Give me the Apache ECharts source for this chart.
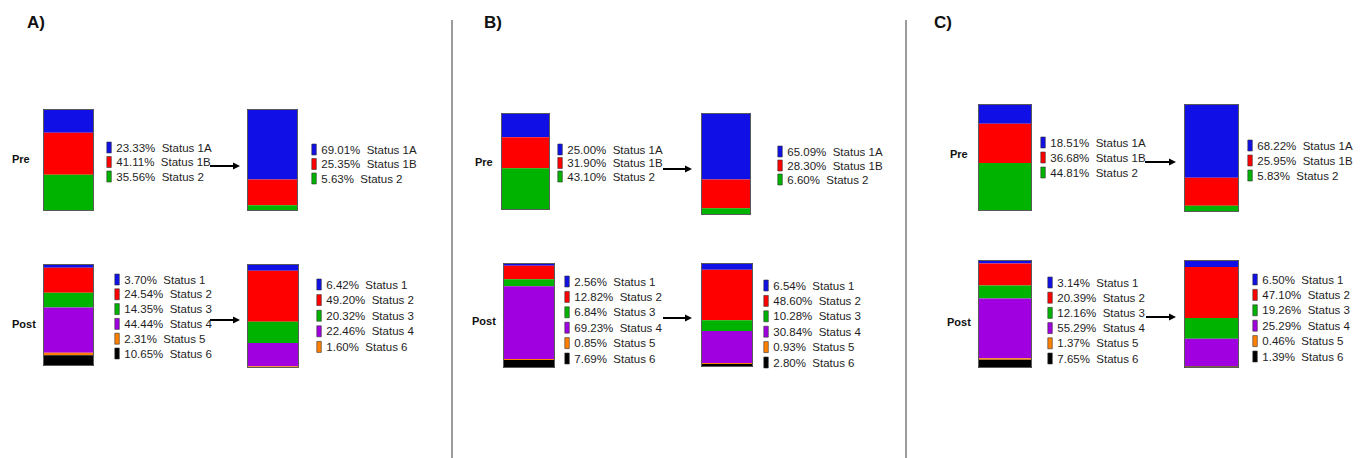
<!DOCTYPE html>
<html>
<head>
<meta charset="utf-8">
<script src="https://cdn.jsdelivr.net/npm/echarts@6/dist/echarts.min.js"></script>
<style>
  html, body { margin: 0; padding: 0; background: #fff; }
  #chart { width: 1369px; height: 458px; }
</style>
</head>
<body>
<div id="chart"></div>
<script>
// ---- Data: status shares (%) before and after, per panel ----
const PANEL_LABELS = ['A)', 'B)', 'C)'];
const ROW_LABELS = ['Pre', 'Post'];

const PRE_STATUSES = ['Status 1A', 'Status 1B', 'Status 2'];
const POST_STATUSES = ['Status 1', 'Status 2', 'Status 3', 'Status 4', 'Status 5', 'Status 6'];
const POST_STATUSES_A_AFTER = ['Status 1', 'Status 2', 'Status 3', 'Status 4', 'Status 6'];

const A_PRE_BEFORE = [23.33, 41.11, 35.56];
const A_PRE_AFTER = [69.01, 25.35, 5.63];
const A_POST_BEFORE = [3.70, 24.54, 14.35, 44.44, 2.31, 10.65];
const A_POST_AFTER = [6.42, 49.20, 20.32, 22.46, 1.60];

const B_PRE_BEFORE = [25.00, 31.90, 43.10];
const B_PRE_AFTER = [65.09, 28.30, 6.60];
const B_POST_BEFORE = [2.56, 12.82, 6.84, 69.23, 0.85, 7.69];
const B_POST_AFTER = [6.54, 48.60, 10.28, 30.84, 0.93, 2.80];

const C_PRE_BEFORE = [18.51, 36.68, 44.81];
const C_PRE_AFTER = [68.22, 25.95, 5.83];
const C_POST_BEFORE = [3.14, 20.39, 12.16, 55.29, 1.37, 7.65];
const C_POST_AFTER = [6.50, 47.10, 19.26, 25.29, 0.46, 1.39];

// ---- Styling ----
const BLUE = '#1010e6', RED = '#ff0000', GREEN = '#00b300', PURPLE = '#a000e0', ORANGE = '#ff8000', BLACK = '#000000';
const PRE_COLORS = [BLUE, RED, GREEN];
const POST_COLORS = [BLUE, RED, GREEN, PURPLE, ORANGE, BLACK];
const POST_COLORS_A_AFTER = [BLUE, RED, GREEN, PURPLE, ORANGE];
const FONT = 'Arial, "Liberation Sans", Helvetica, sans-serif';
const TEXT_COLOR = '#1e1e1e';

// Each stacked bar: its values, legend names, colors, plot box and legend placement
const bars = [
  { values: A_PRE_BEFORE,  statuses: PRE_STATUSES,  colors: PRE_COLORS,  box: [43, 109, 51, 102],   legend: [106, 141.5, 13.5] },
  { values: A_PRE_AFTER,   statuses: PRE_STATUSES,  colors: PRE_COLORS,  box: [247, 109, 51, 102],  legend: [311, 143.5, 13.5] },
  { values: A_POST_BEFORE, statuses: POST_STATUSES, colors: POST_COLORS, box: [43, 264, 51, 102],   legend: [114, 273.5, 13.8] },
  { values: A_POST_AFTER,  statuses: POST_STATUSES_A_AFTER, colors: POST_COLORS_A_AFTER, box: [247, 264, 52, 104], legend: [316, 278.5, 14.6] },

  { values: B_PRE_BEFORE,  statuses: PRE_STATUSES,  colors: PRE_COLORS,  box: [501, 113, 49, 97],   legend: [557, 143.5, 12.5] },
  { values: B_PRE_AFTER,   statuses: PRE_STATUSES,  colors: PRE_COLORS,  box: [701, 113, 50, 102],  legend: [777, 145.5, 13] },
  { values: B_POST_BEFORE, statuses: POST_STATUSES, colors: POST_COLORS, box: [503, 263, 52, 105],  legend: [564, 275.5, 14.4] },
  { values: B_POST_AFTER,  statuses: POST_STATUSES, colors: POST_COLORS, box: [701, 263, 52, 104],  legend: [763, 279.5, 14.4] },

  { values: C_PRE_BEFORE,  statuses: PRE_STATUSES,  colors: PRE_COLORS,  box: [978, 104, 54, 107],  legend: [1040, 136.5, 14] },
  { values: C_PRE_AFTER,   statuses: PRE_STATUSES,  colors: PRE_COLORS,  box: [1184, 104, 55, 108], legend: [1247, 139.5, 14] },
  { values: C_POST_BEFORE, statuses: POST_STATUSES, colors: POST_COLORS, box: [978, 260, 54, 108],  legend: [1047, 276.5, 14.2] },
  { values: C_POST_AFTER,  statuses: POST_STATUSES, colors: POST_COLORS, box: [1184, 260, 55, 108], legend: [1252, 273.5, 14.4] }
];

// Decorations: panel letters, row labels, arrows, dividers
const panelLabelPos = [[27, 22], [484, 22], [934, 22]];
const rowLabelPos = [
  [[12, 159], [12, 324]],
  [[475, 162], [472, 321]],
  [[950, 154], [947, 322]]
];
const arrows = [
  [210, 240, 166], [210, 240, 320],
  [663, 692, 169], [663, 692, 318],
  [1145, 1176, 162], [1146, 1176, 317]
];
const dividers = [452, 906];

// ---- Build option ----
const grid = [], xAxis = [], yAxis = [], series = [], legend = [];
const legendText = {};

bars.forEach((bar, i) => {
  const [l, t, w, h] = bar.box;
  grid.push({ left: l, top: t, width: w, height: h, containLabel: false });
  xAxis.push({ type: 'category', gridIndex: i, data: [''], show: false });
  yAxis.push({ type: 'value', gridIndex: i, min: 0, max: 100, inverse: true, show: false });

  const names = [];
  bar.values.forEach((v, j) => {
    const name = 'bar' + i + '_' + j;
    names.push(name);
    legendText[name] = v.toFixed(2) + '%  ' + bar.statuses[j];
    series.push({
      type: 'bar', name: name, xAxisIndex: i, yAxisIndex: i, stack: 'stack' + i,
      data: [v], barWidth: '100%', silent: true, animation: false,
      itemStyle: { color: bar.colors[j] }
    });
  });
  // outline round the whole bar (full 100%)
  series.push({
    type: 'bar', name: 'outline' + i, xAxisIndex: i, yAxisIndex: i,
    data: [100], barWidth: '100%', barGap: '-100%', silent: true, animation: false, z: 5,
    itemStyle: { color: 'rgba(0,0,0,0)', borderColor: '#5a5a5a', borderWidth: 1 }
  });

  const [lx, ly, gap] = bar.legend;
  legend.push({
    data: names, orient: 'vertical', left: lx + 0.5, top: ly, padding: 0,
    itemWidth: 4.5, itemHeight: 11, itemGap: gap - 11, icon: 'rect', selectedMode: false,
    itemStyle: { borderColor: '#333', borderWidth: 0.6 },
    textStyle: { fontSize: 11.5, fontFamily: FONT, color: TEXT_COLOR, lineHeight: 11 },
    formatter: (n) => legendText[n]
  });
});

const graphic = [];
PANEL_LABELS.forEach((txt, p) => {
  graphic.push({
    type: 'text', x: panelLabelPos[p][0], y: panelLabelPos[p][1],
    style: { text: txt, font: 'bold 17px ' + FONT, fill: '#111', verticalAlign: 'middle', align: 'left' }
  });
  ROW_LABELS.forEach((row, r) => {
    graphic.push({
      type: 'text', x: rowLabelPos[p][r][0], y: rowLabelPos[p][r][1],
      style: { text: row, font: 'bold 11px ' + FONT, fill: '#111', verticalAlign: 'middle', align: 'left' }
    });
  });
});
arrows.forEach(([x1, x2, y]) => {
  graphic.push({ type: 'line', shape: { x1: x1, y1: y, x2: x2 - 5, y2: y }, style: { stroke: '#000', lineWidth: 2 } });
  graphic.push({ type: 'polygon', shape: { points: [[x2, y], [x2 - 7, y - 3.5], [x2 - 7, y + 3.5]] }, style: { fill: '#000' } });
});
dividers.forEach((x) => {
  graphic.push({ type: 'line', shape: { x1: x, y1: 20, x2: x, y2: 458 }, style: { stroke: '#7a7a7a', lineWidth: 1.5 } });
});

const chart = echarts.init(document.getElementById('chart'), null, { renderer: 'svg' });
chart.setOption({
  animation: false,
  backgroundColor: '#ffffff',
  grid, xAxis, yAxis, series, legend, graphic,
  tooltip: { show: false }
});
</script>
</body>
</html>
